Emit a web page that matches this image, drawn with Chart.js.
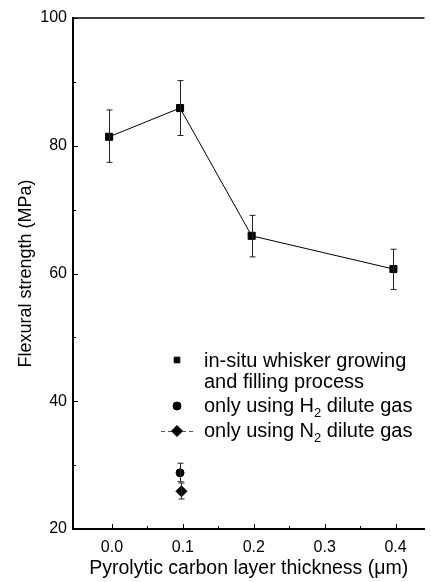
<!DOCTYPE html>
<html>
<head>
<meta charset="utf-8">
<script src="https://cdn.jsdelivr.net/npm/chart.js@4"></script>
<style>
  body { margin: 0; background: #fff; }
  #wrap { width: 431px; height: 582px; position: relative; }
</style>
</head>
<body>
<div id="wrap"><canvas id="flexChart"></canvas></div>
<script>
// ===== DATA =====
const xTicks = [0.0, 0.1, 0.2, 0.3, 0.4];
const xMinorTicks = [0.05, 0.15, 0.25, 0.35];
const yTicks = [20, 40, 60, 80, 100];
const yMinorTicks = [30, 50, 70, 90];

// in-situ whisker growing and filling process
const mainX = [-0.004, 0.096, 0.197, 0.397];
const mainY = [81.4, 85.9, 65.9, 60.7];
const mainLow = [77.4, 81.6, 62.6, 57.5];
const mainHigh = [85.6, 90.2, 69.1, 63.8];

// only using H2 dilute gas
const h2X = [0.096];
const h2Y = [28.8];
const h2Low = [27.4];
const h2High = [30.3];

// only using N2 dilute gas
const n2X = [0.098];
const n2Y = [25.9];
const n2Low = [24.7];
const n2High = [27.2];

const legendItems = [
  { style: "rect", lines: [["in-situ whisker growing"], ["and filling process"]] },
  { style: "circle", lines: [["only using H", "2", " dilute gas"]] },
  { style: "rectRot", lines: [["only using N", "2", " dilute gas"]] }
];

function pts(xs, ys) {
  return xs.map((x, i) => ({ x: x, y: ys[i] }));
}

const FONT = "'Liberation Sans', Arial, sans-serif";

// ===== ERROR BARS, TICKS, FRAME, LEGEND =====
const extrasPlugin = {
  id: "extras",
  afterDatasetsDraw(chart) {
    const ctx = chart.ctx;
    const xs = chart.scales.x, ys = chart.scales.y;
    const area = chart.chartArea;
    ctx.save();

    // error bars
    const bars = [[mainX, mainLow, mainHigh], [h2X, h2Low, h2High], [n2X, n2Low, n2High]];
    ctx.strokeStyle = "#222";
    ctx.lineWidth = 1;
    bars.forEach(([bx, lo, hi]) => {
      bx.forEach((v, i) => {
        const px = Math.round(xs.getPixelForValue(v)) + 0.5;
        const pl = ys.getPixelForValue(lo[i]);
        const ph = ys.getPixelForValue(hi[i]);
        ctx.beginPath();
        ctx.moveTo(px, pl); ctx.lineTo(px, ph);
        ctx.moveTo(px - 3, ph); ctx.lineTo(px + 3, ph);
        ctx.moveTo(px - 3, pl); ctx.lineTo(px + 3, pl);
        ctx.stroke();
      });
    });

    // top frame line
    ctx.strokeStyle = "#000";
    ctx.lineWidth = 1.5;
    ctx.beginPath();
    ctx.moveTo(area.left, area.top); ctx.lineTo(area.right, area.top);
    ctx.stroke();

    // inward ticks
    ctx.lineWidth = 1;
    ctx.beginPath();
    yTicks.forEach(v => {
      const py = Math.round(ys.getPixelForValue(v)) + 0.5;
      ctx.moveTo(area.left, py); ctx.lineTo(area.left + 5, py);
    });
    yMinorTicks.forEach(v => {
      const py = Math.round(ys.getPixelForValue(v)) + 0.5;
      ctx.moveTo(area.left, py); ctx.lineTo(area.left + 3, py);
    });
    xTicks.forEach(v => {
      const px = Math.round(xs.getPixelForValue(v)) + 0.5;
      ctx.moveTo(px, area.bottom); ctx.lineTo(px, area.bottom - 5);
    });
    xMinorTicks.forEach(v => {
      const px = Math.round(xs.getPixelForValue(v)) + 0.5;
      ctx.moveTo(px, area.bottom); ctx.lineTo(px, area.bottom - 3);
    });
    ctx.stroke();

    // legend
    const mx = 177, tx = 204;
    const markerY = [360, 406, 431];
    const baseY = [[367, 388], [412], [437]];
    legendItems.forEach((item, k) => {
      if (item.style === "rectRot") {
        ctx.strokeStyle = "#555";
        ctx.lineWidth = 1;
        ctx.setLineDash([4, 3]);
        ctx.beginPath();
        ctx.moveTo(mx - 16, markerY[k] + 0.5); ctx.lineTo(mx + 16, markerY[k] + 0.5);
        ctx.stroke();
        ctx.setLineDash([]);
      }
      ctx.fillStyle = "#000";
      ctx.strokeStyle = "#000";
      Chart.helpers.drawPoint(ctx, {
        pointStyle: item.style,
        radius: item.style === "rect" ? 4 : (item.style === "circle" ? 4 : 5.5),
        borderWidth: 1,
        rotation: 0
      }, mx, markerY[k]);
      item.lines.forEach((parts, j) => {
        let x = tx;
        const y = baseY[k][j];
        ctx.textBaseline = "alphabetic";
        ctx.textAlign = "left";
        parts.forEach((p, n) => {
          const sub = n === 1;
          ctx.font = (sub ? "13px " : "20px ") + FONT;
          ctx.fillText(p, x, sub ? y + 5 : y);
          x += ctx.measureText(p).width;
        });
      });
    });

    ctx.restore();
  }
};

new Chart(document.getElementById("flexChart"), {
  type: "scatter",
  data: {
    datasets: [
      {
        label: "in-situ whisker growing and filling process",
        data: pts(mainX, mainY),
        showLine: true,
        borderColor: "#000",
        backgroundColor: "#000",
        borderWidth: 1,
        pointStyle: "rect",
        pointRadius: 5,
        pointBorderWidth: 1
      },
      {
        label: "only using H2 dilute gas",
        data: pts(h2X, h2Y),
        borderColor: "#000",
        backgroundColor: "#000",
        pointStyle: "circle",
        pointRadius: 4
      },
      {
        label: "only using N2 dilute gas",
        data: pts(n2X, n2Y),
        borderColor: "#000",
        backgroundColor: "#000",
        pointStyle: "rectRot",
        pointRadius: 5.5
      }
    ]
  },
  options: {
    responsive: true,
    maintainAspectRatio: false,
    animation: false,
    layout: { padding: { top: 18, right: 0, bottom: 0, left: 0 } },
    plugins: {
      legend: { display: false },
      tooltip: { enabled: false }
    },
    scales: {
      x: {
        type: "linear",
        min: -0.055,
        max: 0.4408,
        afterBuildTicks: s => { s.ticks = xTicks.map(v => ({ value: v })); },
        afterFit: s => { s.height = 53; },
        grid: { display: false, drawTicks: false },
        border: { display: true, color: "#000", width: 2 },
        ticks: {
          color: "#000",
          font: { family: FONT, size: 16 },
          padding: 9,
          maxRotation: 0,
          callback: v => Number(v).toFixed(1)
        },
        title: {
          display: true,
          text: "Pyrolytic carbon layer thickness (\u03BCm)",
          color: "#000",
          font: { family: FONT, size: 19.5 },
          padding: { top: 0, bottom: 2 }
        }
      },
      y: {
        min: 20,
        max: 100,
        afterBuildTicks: s => { s.ticks = yTicks.map(v => ({ value: v })); },
        afterFit: s => { s.width = 73; },
        grid: { display: false, drawTicks: false },
        border: { display: true, color: "#000", width: 2 },
        ticks: {
          color: "#000",
          font: { family: FONT, size: 16 },
          padding: 6
        },
        title: {
          display: true,
          text: "Flexural strength (MPa)",
          color: "#000",
          font: { family: FONT, size: 18 },
          padding: { top: 15, bottom: 0 }
        }
      }
    }
  },
  plugins: [extrasPlugin]
});
</script>
</body>
</html>
